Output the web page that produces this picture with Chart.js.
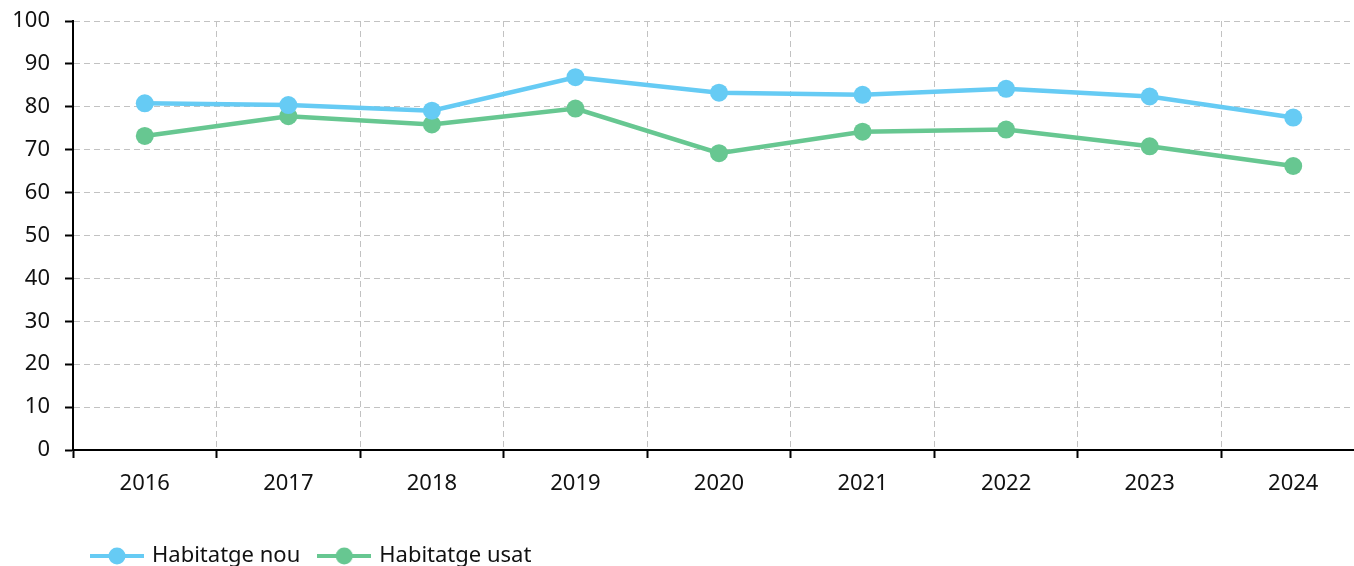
<!DOCTYPE html>
<html>
<head>
<meta charset="utf-8">
<script src="https://cdn.jsdelivr.net/npm/chart.js@4"></script>
<style>
  html, body { margin: 0; padding: 0; background: #fff; overflow: hidden; }
  .marc { width: 1354px; height: 566px; overflow: hidden; position: relative; }
  .marc canvas { position: absolute; left: 0; top: 0; }
</style>
</head>
<body>
<div class="marc">
  <canvas id="grafic" width="1374" height="577" style="width:1374px;height:577px"></canvas>
</div>
<script>
// dades
const anys = ['2016', '2017', '2018', '2019', '2020', '2021', '2022', '2023', '2024'];
const habitatgeNou = [80.8, 80.4, 79.1, 86.9, 83.3, 82.8, 84.2, 82.4, 77.5];
const habitatgeUsat = [73.2, 77.8, 75.9, 79.6, 69.2, 74.2, 74.7, 70.8, 66.2];

const colorNou = '#66cbf4';
const colorUsat = '#67c791';
const lletra = '"Noto Sans", sans-serif';

// icona de llegenda: linia amb punt al mig
function iconaLlegenda(color) {
    const c = document.createElement('canvas');
    c.width = 54;
    c.height = 20;
    const ctx = c.getContext('2d');
    ctx.strokeStyle = color;
    ctx.lineWidth = 4;
    ctx.beginPath();
    ctx.moveTo(0, 10);
    ctx.lineTo(54, 10);
    ctx.stroke();
    ctx.fillStyle = color;
    ctx.beginPath();
    ctx.arc(27, 10, 8.5, 0, Math.PI * 2);
    ctx.fill();
    return c;
}

const ctx = document.getElementById('grafic').getContext('2d');

new Chart(ctx, {
    type: 'line',
    data: {
        labels: anys,
        datasets: [{
            label: 'Habitatge nou',
            data: habitatgeNou,
            borderColor: colorNou,
            backgroundColor: colorNou,
            borderWidth: 4.5,
            pointRadius: 9,
            pointHoverRadius: 9,
            pointBorderWidth: 0,
            pointStyle: 'circle',
            tension: 0,
            legendIcon: iconaLlegenda(colorNou)
        }, {
            label: 'Habitatge usat',
            data: habitatgeUsat,
            borderColor: colorUsat,
            backgroundColor: colorUsat,
            borderWidth: 4.5,
            pointRadius: 9,
            pointHoverRadius: 9,
            pointBorderWidth: 0,
            pointStyle: 'circle',
            tension: 0,
            legendIcon: iconaLlegenda(colorUsat)
        }]
    },
    options: {
        responsive: false,
        animation: false,
        layout: { padding: { top: 21, left: 0, right: 0, bottom: 0 } },
        scales: {
            x: {
                offset: true,
                grid: {
                    offset: true,
                    color: '#c2c2c2',
                    lineWidth: 1,
                    tickLength: 8,
                    tickColor: '#000',
                    tickWidth: 2,
                    tickBorderDash: []
                },
                border: { color: '#000', width: 2, dash: [6, 4] },
                ticks: {
                    color: '#111',
                    padding: 13,
                    maxRotation: 0,
                    font: { family: lletra, size: 22 }
                },
                afterFit: s => { s.height = 75; }
            },
            y: {
                min: 0,
                max: 100,
                ticks: {
                    stepSize: 10,
                    color: '#111',
                    padding: 15,
                    font: { family: lletra, size: 22 }
                },
                grid: {
                    color: '#c2c2c2',
                    lineWidth: 1,
                    tickLength: 8,
                    tickColor: '#000',
                    tickWidth: 2,
                    tickBorderDash: []
                },
                border: { color: '#000', width: 2, dash: [6, 4] },
                afterFit: s => {
                    s.width = 73;
                    s.paddingTop = 0;
                    s.paddingBottom = 0;
                }
            }
        },
        plugins: {
            tooltip: { enabled: false },
            legend: {
                position: 'bottom',
                align: 'start',
                fullSize: false,
                labels: {
                    usePointStyle: true,
                    pointStyleWidth: 48,
                    padding: 20,
                    color: '#111',
                    font: { family: lletra, size: 22 },
                    generateLabels: chart => chart.data.datasets.map((ds, i) => ({
                        text: ds.label,
                        pointStyle: ds.legendIcon,
                        fillStyle: ds.borderColor,
                        strokeStyle: ds.borderColor,
                        lineWidth: 0,
                        hidden: false,
                        datasetIndex: i,
                        fontColor: '#111'
                    }))
                }
            }
        }
    }
});
</script>
</body>
</html>
